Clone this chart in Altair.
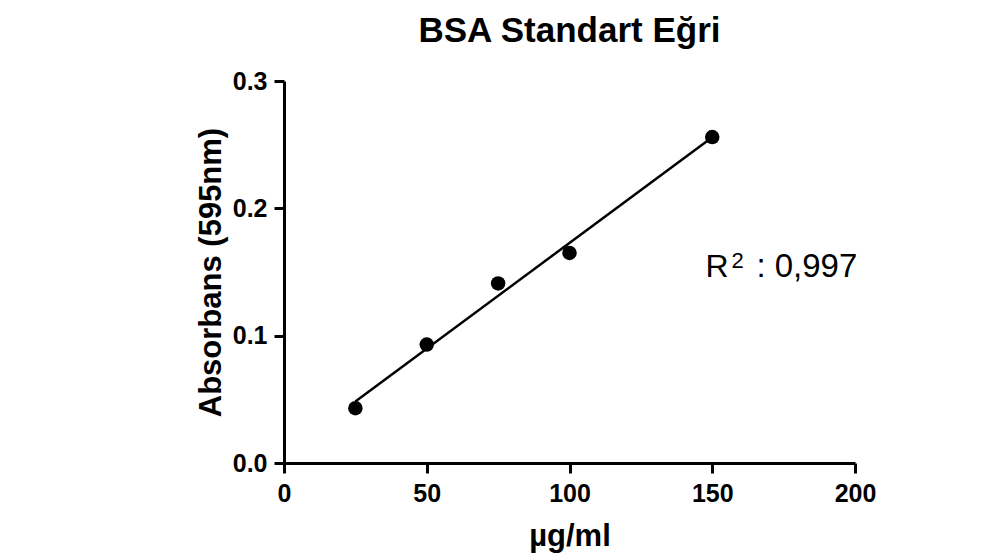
import altair as alt
import pandas as pd

# data
conc = [25, 50, 75, 100, 150]              # µg/ml
absorb = [0.043, 0.093, 0.141, 0.165, 0.256]  # absorbance 595 nm
x_ticks = [0, 50, 100, 150, 200]
y_ticks = [0.0, 0.1, 0.2, 0.3]
r2_text = ": 0,997"
r2_pos = [147.6, 0.146]

FONT = "Liberation Sans"

df = pd.DataFrame({"x": conc, "y": absorb})
ann = pd.DataFrame({"x": [r2_pos[0]], "y": [r2_pos[1]]})

xscale = alt.Scale(domain=[0, 200], nice=False, zero=False)
yscale = alt.Scale(domain=[0, 0.3], nice=False, zero=False)

xaxis = alt.Axis(values=x_ticks, title="µg/ml", grid=False,
                 domainColor="black", domainWidth=3, tickColor="black", tickWidth=3,
                 tickSize=10, labelFont=FONT, labelFontSize=25, labelFontWeight="bold",
                 labelColor="black", labelPadding=8, labelFlush=False,
                 titleFont=FONT, titleFontSize=31, titleFontWeight="bold", titleColor="black",
                 titleX=285.5, titleY=82, titleBaseline="alphabetic", titleAlign="center")
yaxis = alt.Axis(values=y_ticks, format=".1f", title="Absorbans (595nm)", grid=False,
                 domainColor="black", domainWidth=3, tickColor="black", tickWidth=3,
                 tickSize=10, labelFont=FONT, labelFontSize=25, labelFontWeight="bold",
                 labelColor="black", labelPadding=7, labelFlush=False,
                 titleFont=FONT, titleFontSize=31, titleFontWeight="bold", titleColor="black",
                 titleX=-64, titleY=191, titleAngle=270, titleBaseline="alphabetic",
                 titleAlign="center")

base = alt.Chart(df)

points = base.mark_point(filled=True, size=210, color="black", opacity=1).encode(
    x=alt.X("x:Q", scale=xscale, axis=xaxis),
    y=alt.Y("y:Q", scale=yscale, axis=yaxis),
)

line = base.transform_regression("x", "y", method="linear").mark_line(
    color="black", strokeWidth=2.5
).encode(x=alt.X("x:Q", scale=xscale), y=alt.Y("y:Q", scale=yscale))

t_r = alt.Chart(ann).mark_text(text="R", font=FONT, fontSize=32, align="left",
                               baseline="alphabetic", color="black").encode(
    x=alt.X("x:Q", scale=xscale), y=alt.Y("y:Q", scale=yscale))
t_2 = alt.Chart(ann).mark_text(text="2", font=FONT, fontSize=22, align="left",
                               baseline="alphabetic", color="black", dx=26, dy=-9).encode(
    x=alt.X("x:Q", scale=xscale), y=alt.Y("y:Q", scale=yscale))
t_v = alt.Chart(ann).mark_text(text=r2_text, font=FONT, fontSize=33, align="left",
                               baseline="alphabetic", color="black", dx=51).encode(
    x=alt.X("x:Q", scale=xscale), y=alt.Y("y:Q", scale=yscale))

chart = alt.layer(line, points, t_r, t_2, t_v).properties(
    width=571, height=382,
    title=alt.TitleParams("BSA Standart Eğri", font=FONT, fontSize=35, fontWeight="bold",
                          color="black", anchor="middle", frame="group", offset=20),
    autosize=alt.AutoSizeParams(type="none"),
    padding={"left": 276, "top": 73, "right": 110, "bottom": 95},
    background="white",
).configure_view(strokeWidth=0, stroke=None)

chart.save("out.html", embed_options={"renderer": "svg", "actions": False})
